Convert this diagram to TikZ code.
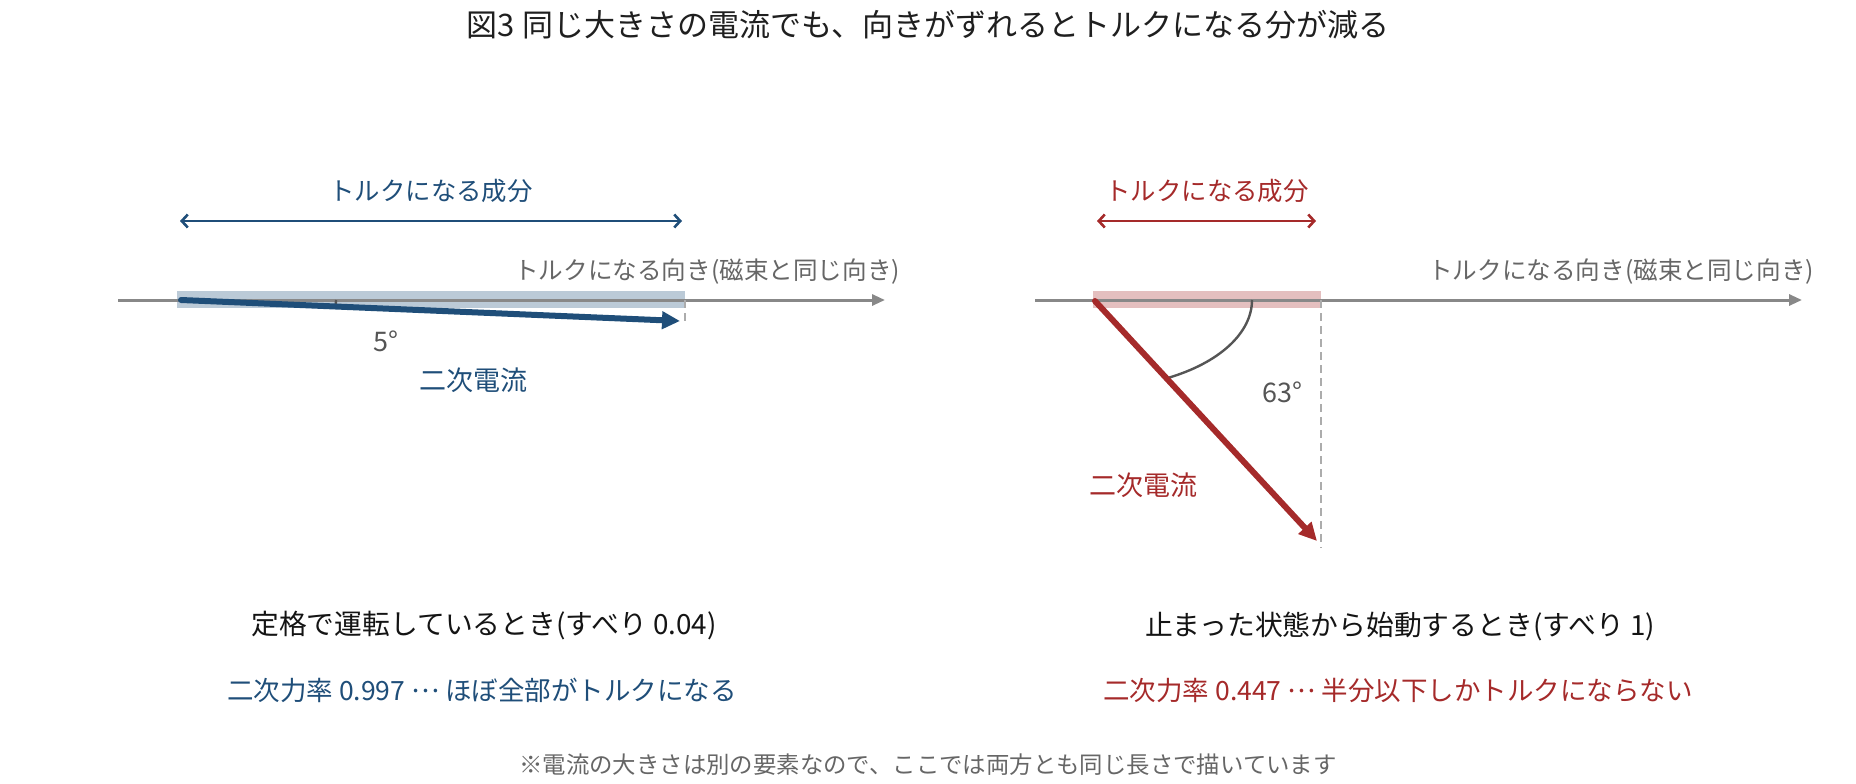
\documentclass[tikz,border=0pt]{standalone}
\usepackage{fontspec}
\setmainfont{Noto Sans CJK JP}
\usetikzlibrary{arrows.meta}
\definecolor{cblue}{HTML}{1F4E79}
\definecolor{cred}{HTML}{A52A2A}
\definecolor{axgray}{HTML}{888888}
\definecolor{txgray}{HTML}{555555}
\definecolor{ftgray}{HTML}{666666}
\newcommand{\middots}{\raisebox{0.3em}{…}}
\tikzset{
  lbl/.style={inner sep=0pt, outer sep=0pt},
  titletxt/.style={lbl, font=\fontsize{31}{37}\selectfont, text=black!88},
  subtxt/.style={lbl, font=\fontsize{27.8}{33}\selectfont, text=black!92},
  pftxt/.style={lbl, font=\fontsize{26.5}{32}\selectfont},
  comptxt/.style={lbl, font=\fontsize{25.4}{30}\selectfont},
  axtxt/.style={lbl, font=\fontsize{24.6}{30}\selectfont, text=ftgray},
  angtxt/.style={lbl, font=\fontsize{27}{32}\selectfont, text=txgray},
  curtxt/.style={lbl, font=\fontsize{27}{32}\selectfont},
  foottxt/.style={lbl, font=\fontsize{23.4}{28}\selectfont, text=ftgray},
  axisline/.style={draw=axgray, line width=3pt, -{Triangle[length=13pt,width=11pt]}},
  comparrow/.style={line width=2.6pt, {Straight Barb[length=6pt,width=13pt,line width=2.6pt]}-{Straight Barb[length=6pt,width=13pt,line width=2.6pt]}},
  vecarrow/.style={line width=6pt, line cap=round, -{Triangle[length=18pt,width=17pt]}},
  guide/.style={draw=gray!65, line width=2pt, dash pattern=on 8pt off 5pt},
  arcline/.style={draw=txgray, line width=2.4pt},
}
\begin{document}
\begin{tikzpicture}[x=1pt,y=-1pt]
\useasboundingbox (0,0) rectangle (1856,784);

% title
\node[titletxt] (title) at (928,25) {図3 同じ大きさの電流でも、向きがずれるとトルクになる分が減る};

% ---------------- left panel ----------------
\fill[cblue, opacity=0.3] (177,291) rectangle (685,308);
\coordinate (laxs) at (118,300);
\coordinate (laxe) at (885,300);
\draw[axisline] (laxs) -- (laxe);
\node[axtxt, anchor=east] (laxl) at (900,272) {トルクになる向き(磁束と同じ向き)};
\coordinate (lcs) at (180,221);
\coordinate (lce) at (682,221);
\draw[comparrow, cblue] (lcs) -- (lce);
\node[comptxt, text=cblue] (lcl) at (431,191) {トルクになる成分};
\coordinate (lg0) at (685,300);
\coordinate (lg1) at (685,323);
\draw[guide] (lg0) -- (lg1);
\coordinate (lo) at (181,300);
\coordinate (lt) at (680,321);
\coordinate (la0) at (336,300);
\draw[arcline] (la0) arc[start angle=0, end angle=5, x radius=155, y radius=88];
\draw[vecarrow, cblue] (lo) -- (lt);
\node[angtxt] (lang) at (386,341) {5°};
\node[curtxt, text=cblue] (lcur) at (473,380) {二次電流};

% ---------------- right panel ----------------
\fill[cred, opacity=0.3] (1093,291) rectangle (1321,308);
\coordinate (raxs) at (1035,300);
\coordinate (raxe) at (1802,300);
\draw[axisline] (raxs) -- (raxe);
\node[axtxt, anchor=east] (raxl) at (1814,272) {トルクになる向き(磁束と同じ向き)};
\coordinate (rcs) at (1097,221);
\coordinate (rce) at (1316,221);
\draw[comparrow, cred] (rcs) -- (rce);
\node[comptxt, text=cred] (rcl) at (1207,191) {トルクになる成分};
\coordinate (rg0) at (1321,300);
\coordinate (rg1) at (1321,548);
\draw[guide] (rg0) -- (rg1);
\coordinate (ro) at (1095,301);
\coordinate (rt) at (1317,541);
\coordinate (ra0) at (1252,300);
\draw[arcline] (ra0) arc[start angle=0, end angle=63, x radius=157, y radius=88];
\draw[vecarrow, cred] (ro) -- (rt);
\node[angtxt] (rang) at (1282,392) {63°};
\node[curtxt, text=cred] (rcur) at (1143,485) {二次電流};

% ---------------- bottom texts ----------------
\node[subtxt] (lsub) at (484,626) {定格で運転しているとき(すべり 0.04)};
\node[pftxt, text=cblue] (lpf) at (482,690) {二次力率 0.997 \middots{} ほぼ全部がトルクになる};
\node[subtxt] (rsub) at (1400,626) {止まった状態から始動するとき(すべり 1)};
\node[pftxt, text=cred] (rpf) at (1398,690) {二次力率 0.447 \middots{} 半分以下しかトルクにならない};
\node[foottxt] (foot) at (928,765) {※電流の大きさは別の要素なので、ここでは両方とも同じ長さで描いています};
\end{tikzpicture}
\end{document}
